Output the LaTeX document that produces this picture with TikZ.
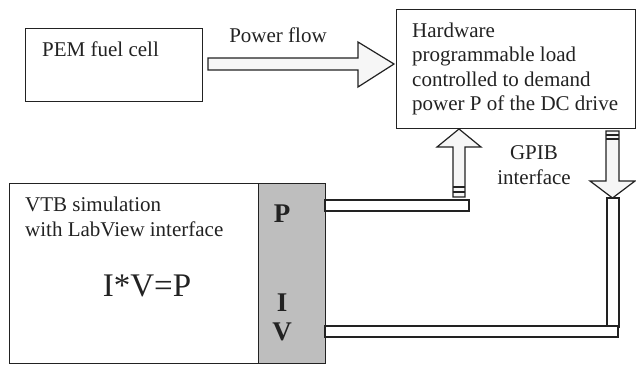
\documentclass[tikz,border=0pt]{standalone}
\usepackage{fontspec}
\setmainfont{Liberation Serif}
\definecolor{ink}{HTML}{222222}
\definecolor{panel}{HTML}{BEBEBE}
\definecolor{arrowfill}{HTML}{F6F6F6}
\begin{document}
\begin{tikzpicture}[x=1pt,y=-1pt,
  box/.style={draw=ink, line width=1.3pt, anchor=north west, inner sep=0pt},
  blockarrow/.style={draw=ink, line width=1.2pt, fill=arrowfill, line join=miter},
  pipe/.style={draw=ink, line width=1.2pt, fill=white},
  lbl/.style={font=\fontsize{21}{24.5}\selectfont, text=ink, inner sep=0pt},
  big/.style={font=\fontsize{33}{36}\selectfont, text=ink, inner sep=0pt},
  pin/.style={font=\fontsize{27}{30}\selectfont\bfseries, text=ink, inner sep=0pt}]
\useasboundingbox (0,0) rectangle (636,365);
% boxes
\node[box, minimum width=177pt, minimum height=73pt] (pem) at (25,28) {};
\node[box, minimum width=239pt, minimum height=119pt] (hw) at (396,9) {};
\node[box, minimum width=316pt, minimum height=180pt] (vtb) at (9,183) {};
\node[box, fill=panel, minimum width=67pt, minimum height=180pt] (piv) at (258,183) {};
% texts
\node[lbl, anchor=west] (pemt) at (42,49) {PEM fuel cell};
\node[lbl, anchor=west, align=left] (hwt) at (412,69) {Hardware\\programmable load\\controlled to demand\\power P of the DC drive};
\node[lbl, anchor=west, align=left] (vtbt) at (25,217) {VTB simulation\\with LabView interface};
\node[big] (eq) at (147,286) {I*V=P};
\node[pin] (pP) at (282,214) {P};
\node[pin] (pI) at (282,303) {I};
\node[pin] (pV) at (282,332) {V};
\node[lbl] (pf) at (278,35) {Power flow};
\node[lbl, align=center] (gpib) at (534,165) {GPIB\\interface};
% power flow arrow
\draw[blockarrow] (208,58) -- (358,58) -- (358,42) -- (394,64) -- (358,87) -- (358,70) -- (208,70) -- cycle;
% pipes
\draw[pipe] (325,200) rectangle (469,211);
\draw[pipe] (607,198) rectangle (619,327);
\draw[pipe] (325,326) rectangle (618,337);
% up arrow (P to load)
\draw[blockarrow] (453,197) -- (453,147) -- (437,147) -- (459,129) -- (481,147) -- (465,147) -- (465,197) -- cycle;
\draw[ink, line width=1.2pt] (453,187) -- (465,187) (453,192) -- (465,192);
% down arrow (load to I,V)
\draw[blockarrow] (606,131) -- (619,131) -- (619,181) -- (635,181) -- (612.5,198) -- (590,181) -- (606,181) -- cycle;
\draw[ink, line width=1.2pt] (606,135) -- (619,135) (606,139) -- (619,139);
\end{tikzpicture}
\end{document}
